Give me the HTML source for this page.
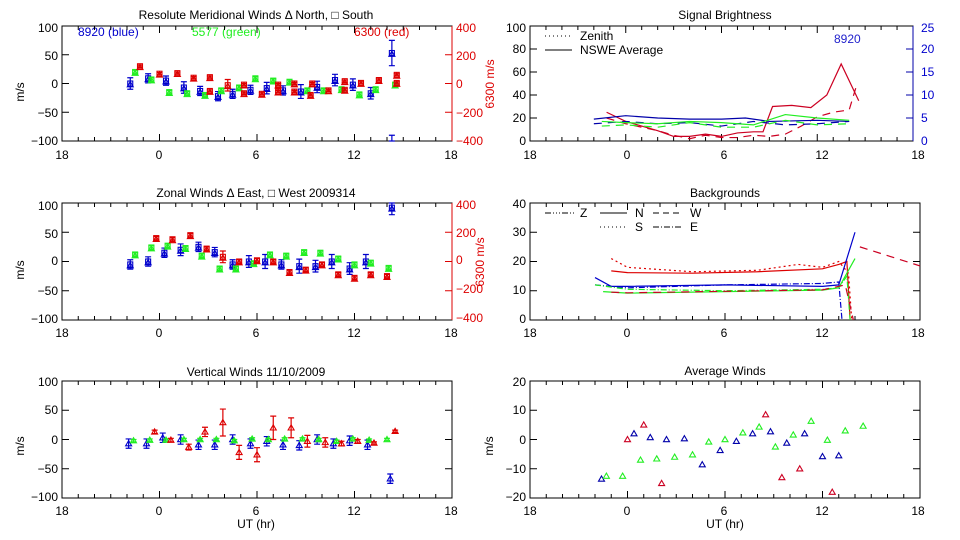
<!DOCTYPE html>
<html><head><meta charset="utf-8"><style>
html,body{margin:0;padding:0;background:#fff;}
svg{display:block;font-family:"Liberation Sans",sans-serif;}
text{font-size:12px;}
</style></head><body>
<svg id="s" width="960" height="540" viewBox="0 0 960 540" xmlns="http://www.w3.org/2000/svg">
<g fill="#000" text-anchor="middle">
<text x="256" y="19" font-size="13">Resolute Meridional Winds Δ North, □ South</text>
<text x="256" y="197" font-size="13">Zonal Winds Δ East, □ West 2009314</text>
<text x="256" y="376" font-size="13">Vertical Winds 11/10/2009</text>
<text x="725" y="19" font-size="13">Signal Brightness</text>
<text x="725" y="197" font-size="13">Backgrounds</text>
<text x="725" y="375" font-size="13">Average Winds</text>
<text x="256" y="528">UT (hr)</text>
<text x="725" y="528">UT (hr)</text>
</g>
<text x="78" y="36" fill="#0000cc" font-size="13">8920 (blue)</text>
<text x="192" y="36" fill="#22ee22" font-size="13">5577 (green)</text>
<text x="354" y="36" fill="#dd0000" font-size="13">6300 (red)</text>
<text x="834" y="43" fill="#2222cc" font-size="16">8920</text>
<g font-size="11" fill="#000"><text x="580" y="40">Zenith</text><text x="580" y="54">NSWE Average</text>
<text x="580" y="217">Z</text><text x="635" y="217">N</text><text x="690" y="217">W</text>
<text x="635" y="231">S</text><text x="690" y="231">E</text></g>
<g stroke="#000" stroke-width="1"><line x1="545" y1="36" x2="570" y2="36" stroke-dasharray="1,3"/><line x1="545" y1="50" x2="572" y2="50"/>
<line x1="545" y1="213" x2="575" y2="213" stroke-dasharray="6,2,1,2,1,2,1,2"/><line x1="600" y1="213" x2="627" y2="213"/><line x1="653" y1="213" x2="682" y2="213" stroke-dasharray="6,4"/>
<line x1="600" y1="227" x2="627" y2="227" stroke-dasharray="1,3"/><line x1="653" y1="227" x2="682" y2="227" stroke-dasharray="6,2,1,2"/></g>
<g text-anchor="end" fill="#000">
<text x="58" y="32">100</text><text x="58" y="60">50</text><text x="58" y="88">0</text><text x="58" y="117">−50</text><text x="58" y="145">−100</text>
<text x="58" y="210">100</text><text x="58" y="238">50</text><text x="58" y="265">0</text><text x="58" y="295">−50</text><text x="58" y="323">−100</text>
<text x="58" y="386">100</text><text x="58" y="414">50</text><text x="58" y="444">0</text><text x="58" y="473">−50</text><text x="58" y="501">−100</text>
<text x="526" y="32">100</text><text x="526" y="53">80</text><text x="526" y="76">60</text><text x="526" y="99">40</text><text x="526" y="122">20</text><text x="526" y="145">0</text>
<text x="526" y="208">40</text><text x="526" y="236">30</text><text x="526" y="265">20</text><text x="526" y="294">10</text><text x="526" y="323">0</text>
<text x="526" y="386">20</text><text x="526" y="414">10</text><text x="526" y="444">0</text><text x="526" y="473">−10</text><text x="526" y="501">−20</text>
</g>
<g fill="#dd0000" font-size="11"><text x="456" y="32">400</text><text x="456" y="60">200</text><text x="456" y="88">0</text><text x="456" y="117">−200</text><text x="456" y="145">−400</text>
<g font-size="9"><text x="456" y="209">400</text><text x="456" y="237">200</text><text x="456" y="264">0</text><text x="456" y="293">−200</text><text x="456" y="322">−400</text></g></g>
<g fill="#0000cc"><text x="921" y="32">25</text><text x="921" y="53">20</text><text x="921" y="76">15</text><text x="921" y="99">10</text><text x="921" y="122">5</text><text x="921" y="145">0</text></g>
<text transform="translate(24,92) rotate(-90)" text-anchor="middle">m/s</text>
<text transform="translate(24,270) rotate(-90)" text-anchor="middle">m/s</text>
<text transform="translate(24,446) rotate(-90)" text-anchor="middle">m/s</text>
<text transform="translate(493,446) rotate(-90)" text-anchor="middle">m/s</text>
<text transform="translate(494,84) rotate(-90)" text-anchor="middle" fill="#dd0000" font-size="11">6300 m/s</text>
<text transform="translate(484,262) rotate(-90)" text-anchor="middle" fill="#dd0000" font-size="9">6300 m/s</text>
<g text-anchor="middle" fill="#000">
<text x="62" y="159">18</text><text x="159" y="159">0</text><text x="256" y="159">6</text><text x="354" y="159">12</text><text x="451" y="159">18</text>
<text x="62" y="337">18</text><text x="159" y="337">0</text><text x="256" y="337">6</text><text x="354" y="337">12</text><text x="451" y="337">18</text>
<text x="62" y="515">18</text><text x="159" y="515">0</text><text x="256" y="515">6</text><text x="354" y="515">12</text><text x="451" y="515">18</text>
<text x="530" y="159">18</text><text x="627" y="159">0</text><text x="724" y="159">6</text><text x="822" y="159">12</text><text x="918" y="159">18</text>
<text x="530" y="337">18</text><text x="627" y="337">0</text><text x="724" y="337">6</text><text x="822" y="337">12</text><text x="918" y="337">18</text>
<text x="530" y="515">18</text><text x="627" y="515">0</text><text x="724" y="515">6</text><text x="822" y="515">12</text><text x="918" y="515">18</text>
</g>
<g id="d"></g>
</svg>
<script>
var g=document.getElementById('d'),o='';
function P(x0,x1,y0,y1,lo,hi){return {x0:x0,x1:x1,y0:y0,y1:y1,lo:lo,hi:hi};}
function X(p,t){return p.x0+(t+6)/24*(p.x1-p.x0);}
function Y(p,v){return p.y1-(v-p.lo)/(p.hi-p.lo)*(p.y1-p.y0);}
function frame(p,ny,rcol){
 o+='<rect x="'+p.x0+'" y="'+p.y0+'" width="'+(p.x1-p.x0)+'" height="'+(p.y1-p.y0)+'" fill="none" stroke="#000"/>';
 for(var h=-5;h<18;h++){var x=X(p,h),L=(h%6==0)?7:4;
  o+='<line x1="'+x+'" y1="'+p.y1+'" x2="'+x+'" y2="'+(p.y1-L)+'" stroke="#000"/><line x1="'+x+'" y1="'+p.y0+'" x2="'+x+'" y2="'+(p.y0+L)+'" stroke="#000"/>';}
 for(var i=1;i<ny;i++){var y=p.y0+i*(p.y1-p.y0)/ny;
  o+='<line x1="'+p.x0+'" y1="'+y+'" x2="'+(p.x0+7)+'" y2="'+y+'" stroke="#000"/>';
  o+='<line x1="'+p.x1+'" y1="'+y+'" x2="'+(p.x1-7)+'" y2="'+y+'" stroke="'+(rcol||'#000')+'"/>';}
 if(rcol)o+='<line x1="'+p.x1+'" y1="'+p.y0+'" x2="'+p.x1+'" y2="'+p.y1+'" stroke="'+rcol+'"/>';
}
function mk(p,t,v,e,c,sq){var x=X(p,t),y=Y(p,v);
 if(e){var a=Math.max(Y(p,v+e),p.y0),b=Math.min(Y(p,v-e),p.y1);
 o+='<path d="M'+x+' '+a+'V'+b+'M'+(x-3)+' '+a+'h6M'+(x-3)+' '+b+'h6" stroke="'+c+'" stroke-width="1.2" fill="none"/>';}
 if(y<p.y0||y>p.y1)return;
 if(sq)o+='<rect x="'+(x-2.5)+'" y="'+(y-2.5)+'" width="5" height="5" fill="none" stroke="'+c+'" stroke-width="1.1"/>';
 else o+='<path d="M'+x+' '+(y-3)+'L'+(x+3)+' '+(y+2.2)+'L'+(x-3)+' '+(y+2.2)+'Z" fill="none" stroke="'+c+'" stroke-width="1.1"/>';}
function pts(p,a,c,sq,de){a.forEach(function(d){mk(p,d[0],d[1],d[2]===undefined?de:d[2],c,sq);mk(p,d[0],d[1]-2,0,c,!sq);});}
function ln(p,a,c,da){o+='<polyline fill="none" stroke="'+c+'" stroke-width="1.2" '+(da?'stroke-dasharray="'+da+'" ':'')+'points="'+a.map(function(d){return X(p,d[0])+','+Y(p,d[1]);}).join(' ')+'"/>';}
var B='#0000cc',G='#22ee22',R='#dd0000';
var p1=P(62,452,26,141,-100,100),p2=P(62,452,203,320,-100,100),p3=P(62,452,381,498,-100,100);
var q1=P(530,913,26,141,0,100),q2=P(530,920,203,320,0,40),q3=P(530,920,381,498,-20,20);
frame(p1,4,R);frame(p2,4,R);frame(p3,4);frame(q1,5,'#0000aa');frame(q2,4);frame(q3,4);
pts(p1,[[-1.8,0,10],[-0.7,9,8],[0.4,5,8],[1.5,-7,10],[2.5,-13,8],[3.6,-22,8],[4.5,-18,8],[5.6,-11,8],[6.6,-8,10],[7.6,-12,8],[8.7,-14,12],[9.7,-6,10],[10.8,6,10],[11.9,-2,10],[13,-17,10],[14.3,53,22],[14.3,-125,35]],B,true);
pts(p1,[[-1.5,20],[-0.5,7],[0.6,-15],[1.7,-17],[2.8,-20],[3.8,-12],[4.9,-7],[5.9,9],[7,5],[8,3],[9.1,-12],[10.1,-12],[11.2,-10],[12.3,-19],[13.3,-10],[14.5,-2]],G,true,3);
pts(p1,[[-1.2,30],[0,17],[1.1,18],[2.1,10],[3.1,11],[3.1,-13],[4.2,-3,10],[5.2,-2],[5.2,-17],[6.3,-18],[7.3,-14],[7.3,-2],[8.3,-14],[8.3,0],[9.3,-20],[9.4,0],[10.4,-12],[11.4,-11],[11.4,4],[12.4,1],[13.5,6],[14.6,15],[14.6,1]],R,true,2);
pts(p2,[[-1.8,-5,8],[-0.7,0,8],[0.3,15,8],[1.3,20,10],[2.4,25,8],[3.4,16,8],[4.5,-5,8],[5.5,0,10],[6.5,0,12],[7.5,-5,8],[8.6,-8,12],[9.6,-8,10],[10.6,0,12],[11.7,-12,10],[12.7,0,12],[14.3,92,12]],B,true);
pts(p2,[[-1.5,12],[-0.5,24],[0.5,27],[1.6,23],[2.6,10],[3.7,-12],[4.7,-12],[5.8,-3],[6.8,12],[7.8,10],[8.9,16],[9.9,15],[11,5],[12,-5],[13,-2],[14.1,-11]],G,true,3);
pts(p2,[[-0.2,40],[0.8,38],[1.9,45],[2.9,22],[3.9,8,10],[4.9,0],[6,2],[7,0],[8,-18],[9,-14],[10,-5],[11,-22],[12,-28],[13,-22],[14,-25]],R,true,3);
function v(p,a,c,de){a.forEach(function(d){mk(p,d[0],d[1],d[2]===undefined?de:d[2],c,false);});}
v(p3,[[-1.9,-7],[-0.8,-7],[0.2,3],[1.3,0],[2.4,-9],[3.4,-9],[4.5,0],[5.6,-7],[6.6,-3],[7.6,-9],[8.6,-10],[9.7,0],[10.7,-7],[11.7,-2],[12.8,-9],[14.2,-67]],B,8);
v(p3,[[-1.6,-2],[-0.6,-1],[0.4,-1],[1.5,0],[2.5,0],[3.5,0],[4.6,-2],[5.7,1],[6.7,0],[7.7,1],[8.8,1],[9.8,0],[10.9,-3],[11.9,1],[12.9,-1],[14,0]],G,2);
v(p3,[[-0.3,13,3],[0.7,-1,3],[1.8,-13,5],[2.8,13,8],[3.9,29,23],[4.9,-22,12],[6,-26,12],[7,20,20],[8.1,20,17],[9.1,-3,10],[10.2,-5,8],[11.2,-7,4],[12.2,-3,3],[13.2,-6,2],[14.5,14,2]],R);
v(q3,[[0,0],[1,5],[2.1,-15],[8.5,8.5],[9.5,-13],[10.6,-10],[12.6,-18]],'#cc0022');
v(q3,[[-1.6,-13.5],[0.4,2],[1.4,0.7],[2.4,0],[3.5,0.3],[4.6,-8.6],[5.7,-3.7],[6.7,-0.6],[7.7,2],[8.8,2.7],[9.8,-1.2],[10.9,2],[12,-5.8],[13,-5.5]],'#0000aa');
v(q3,[[-1.3,-12.5],[-0.3,-12.5],[0.8,-7],[1.8,-6.6],[2.9,-6],[4,-5.2],[5,-0.8],[6,0],[7.1,2.3],[8.1,4.3],[9.1,-2.5],[10.2,1.6],[11.3,6.3],[12.3,-0.2],[13.4,3],[14.5,4.6]],G);
ln(q1,[[-1.2,25],[0,17],[1,13],[2,9],[3,4],[4,4],[5,6],[6,4],[7,7],[8,8],[8.6,8],[9.2,30],[10.4,31],[11.6,29],[12.6,40],[13.5,67],[14.6,35]],'#cc0022');
ln(q1,[[-1.2,20],[0,15],[1,12],[2,9],[3,5],[4,2],[5,5],[6,3],[7,3],[8,5],[9,4],[10,6],[11,13],[12,21],[13,25],[14,27],[14.5,50]],'#cc0022','8,6');
ln(q1,[[-2,19],[0,22],[2,20],[4,19],[6,19],[7.5,20],[9,17],[12,18],[14,17]],'#0000aa');
ln(q1,[[-2,15],[0,17],[2,15],[4,16],[6,13],[8,17],[10,14],[12,15],[14,17]],'#0000aa','8,6');
ln(q1,[[-1.5,17],[0,16],[2,15],[4,17],[6,16],[8,14],[10,23],[12,20],[14,18]],G);
ln(q1,[[-1.5,13],[0,14],[2,12],[4,16],[6,12],[8,12],[10,18],[12,14],[14,15]],G,'8,6');
ln(q2,[[-1,16.8],[0,16.2],[4,16],[8,16.5],[12,17.5],[13,19],[13.5,20],[13.7,0]],R);
ln(q2,[[-1,21],[0,18],[4,16.5],[8,17],[10.5,19],[12,18],[13,20],[13.6,16],[13.8,0]],R,'2,3');
ln(q2,[[14.3,25],[18,18.5]],'#cc0022','8,6');
ln(q2,[[-2,14.5],[-1,11.5],[0,11.5],[6,12],[12,11.5],[13,12],[14,30]],B);
ln(q2,[[-2,12],[0,11],[6,12],[12,12.5],[13,13],[13.2,0]],B,'6,2,1,2');
ln(q2,[[-1.5,9.7],[0,9.2],[6,9.7],[12,10.2],[13,11],[14,21]],G);
ln(q2,[[-2,12],[0,10.5],[6,10],[12,10.5],[13,11],[13.5,15],[13.7,0]],G,'6,2,1,2');
ln(q2,[[-1,9.5],[0,9.3],[6,9.8],[12,10.3],[13.4,12],[13.9,0]],'#cc0022','8,6');
g.innerHTML=o;
</script>
</body></html>
